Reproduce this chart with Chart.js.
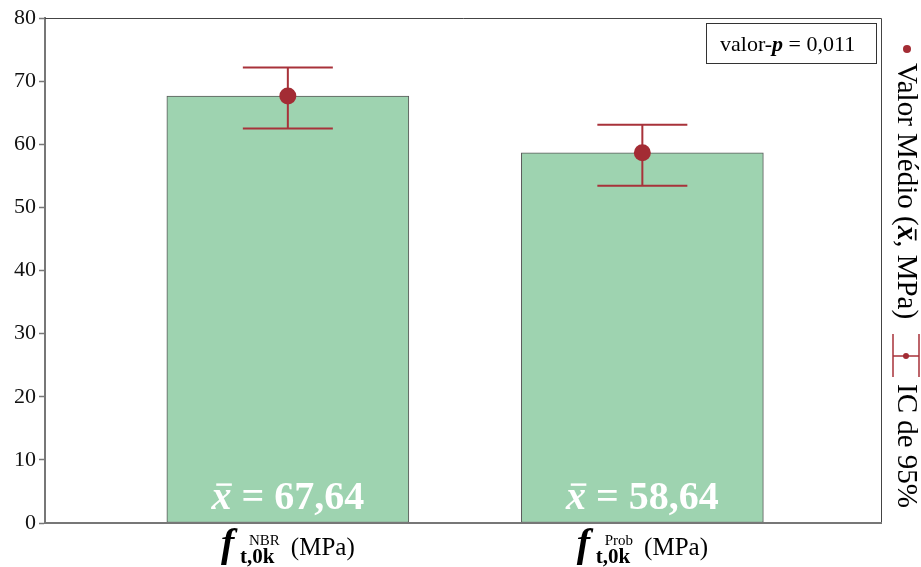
<!DOCTYPE html>
<html>
<head>
<meta charset="utf-8">
<script src="https://cdn.jsdelivr.net/npm/chart.js@4/dist/chart.umd.min.js"></script>
<style>
  html, body { margin: 0; padding: 0; background: #fff; }
  #wrap { width: 921px; height: 567px; }
</style>
</head>
<body>
<div id="wrap"><canvas id="c" width="921" height="567"></canvas></div>
<script>
// Strength estimates: mean value and 95% confidence interval per method
const categories = ['NBR', 'Prob'];
const meanValues = [67.64, 58.64];
const ciLower = [62.48, 53.43];
const ciUpper = [72.17, 63.10];
const yMin = 0;
const yMax = 80;
const yStep = 10;
const pValueText = '0,011';
const legendMeanText = ['Valor Médio (', 'x', ', MPa)'];
const legendCiText = 'IC de 95%';

const SERIF = '"Liberation Serif", "Times New Roman", serif';
const BAR_FILL = 'rgb(158,211,176)';
const BAR_EDGE = '#5a5a5a';
const RED = 'rgb(168,50,58)';
const DOT = 'rgb(163,44,52)';

const barPoints = categories.map((c, i) => ({ x: i + 1, y: meanValues[i] }));
const meanPoints = categories.map((c, i) => ({ x: i + 1, y: meanValues[i] }));

const fmt = v => v.toFixed(2).replace('.', ',');

// white page background
const bgPlugin = {
  id: 'bg',
  beforeDraw(chart) {
    const ctx = chart.ctx;
    ctx.save();
    ctx.fillStyle = '#fff';
    ctx.fillRect(0, 0, chart.width, chart.height);
    ctx.restore();
  }
};

// confidence interval whiskers, drawn over the bars and under the mean dots
const ciPlugin = {
  id: 'ci',
  afterDatasetDraw(chart, args) {
    if (args.index !== 0) return;
    const ctx = chart.ctx;
    const xs = chart.scales.x, ys = chart.scales.y;
    const half = 45;
    ctx.save();
    ctx.strokeStyle = RED;
    ctx.lineWidth = 2;
    categories.forEach((c, i) => {
      const px = xs.getPixelForValue(i + 1);
      const top = ys.getPixelForValue(ciUpper[i]);
      const bot = ys.getPixelForValue(ciLower[i]);
      ctx.beginPath();
      ctx.moveTo(px, top); ctx.lineTo(px, bot);
      ctx.moveTo(px - half, top); ctx.lineTo(px + half, top);
      ctx.moveTo(px - half, bot); ctx.lineTo(px + half, bot);
      ctx.stroke();
    });
    ctx.restore();
  }
};

function drawXbar(ctx, x, baseline, size, color) {
  // italic bold x with an overbar
  ctx.font = 'bold italic ' + size + 'px ' + SERIF;
  const w = ctx.measureText('x').width;
  ctx.fillStyle = color;
  ctx.fillText('x', x, baseline);
  ctx.fillRect(x + size * 0.12, baseline - size * 0.64, w * 0.78, Math.max(1.5, size * 0.06));
  return w;
}

const decorPlugin = {
  id: 'decor',
  afterDraw(chart) {
    const ctx = chart.ctx;
    const xs = chart.scales.x, ys = chart.scales.y;
    const area = chart.chartArea;
    ctx.save();

    // frame: thin dark top/right, grey bottom axis line
    ctx.strokeStyle = '#444';
    ctx.lineWidth = 1;
    ctx.beginPath();
    ctx.moveTo(area.left, area.top + 0.5);
    ctx.lineTo(area.right - 0.5, area.top + 0.5);
    ctx.lineTo(area.right - 0.5, area.bottom);
    ctx.stroke();
    ctx.strokeStyle = '#777';
    ctx.lineWidth = 2;
    ctx.beginPath();
    ctx.moveTo(area.left, area.bottom);
    ctx.lineTo(area.right, area.bottom);
    ctx.stroke();

    // value labels inside the bars
    ctx.textBaseline = 'alphabetic';
    ctx.textAlign = 'left';
    categories.forEach((c, i) => {
      const cx = xs.getPixelForValue(i + 1);
      const size = 40;
      const rest = ' = ' + fmt(meanValues[i]);
      ctx.font = 'bold italic ' + size + 'px ' + SERIF;
      const wx = ctx.measureText('x').width;
      ctx.font = 'bold ' + size + 'px ' + SERIF;
      const wr = ctx.measureText(rest).width;
      const x0 = cx - (wx + wr) / 2;
      const base = ys.getPixelForValue(0) - 14;
      drawXbar(ctx, x0, base, size, '#fff');
      ctx.font = 'bold ' + size + 'px ' + SERIF;
      ctx.fillText(rest, x0 + wx, base);
    });

    // category labels: f_{t,0k}^{method} (MPa)
    categories.forEach((c, i) => {
      const cx = xs.getPixelForValue(i + 1);
      const fFont = 'bold italic 40px ' + SERIF;
      const supFont = '15px ' + SERIF;
      const subFont = 'bold 21px ' + SERIF;
      const unitFont = '25px ' + SERIF;
      ctx.font = subFont; const subW = ctx.measureText('t,0k').width;
      ctx.font = supFont; const supW = ctx.measureText(c).width;
      ctx.font = unitFont; const unitW = ctx.measureText('(MPa)').width;
      const subX = 19, supX = 28;
      const unitX = Math.max(subX + subW, supX + supW) + 11;
      const total = unitX + unitW;
      const L = cx - total / 2;
      ctx.fillStyle = '#000';
      ctx.font = fFont; ctx.fillText('f', L, 556);
      ctx.font = subFont; ctx.fillText('t,0k', L + subX, 563);
      ctx.font = supFont; ctx.fillText(c, L + supX, 545);
      ctx.font = unitFont; ctx.fillText('(MPa)', L + unitX, 555);
    });

    // p-value box
    ctx.strokeStyle = '#333';
    ctx.lineWidth = 1;
    ctx.strokeRect(706.5, 23.5, 170, 40);
    ctx.fillStyle = '#000';
    ctx.font = '22px ' + SERIF;
    let tx = 720;
    ctx.fillText('valor-', tx, 51); tx += ctx.measureText('valor-').width;
    ctx.font = 'bold italic 22px ' + SERIF;
    ctx.fillText('p', tx, 51); tx += ctx.measureText('p').width;
    ctx.font = '22px ' + SERIF;
    ctx.fillText(' = ' + pValueText, tx, 51);

    // legend on the right, rotated to read top-to-bottom
    ctx.fillStyle = DOT;
    ctx.beginPath();
    ctx.arc(907, 49, 4, 0, Math.PI * 2);
    ctx.fill();

    ctx.save();
    ctx.translate(898, 63);
    ctx.rotate(Math.PI / 2);
    ctx.fillStyle = '#000';
    const lsize = 29;
    ctx.font = lsize + 'px ' + SERIF;
    let lx = 0;
    ctx.fillText(legendMeanText[0], lx, 0); lx += ctx.measureText(legendMeanText[0]).width;
    lx += drawXbar(ctx, lx, 0, lsize, '#000');
    ctx.font = lsize + 'px ' + SERIF;
    ctx.fillText(legendMeanText[2], lx, 0);
    ctx.restore();

    // interval marker
    ctx.strokeStyle = RED;
    ctx.lineWidth = 1.5;
    ctx.beginPath();
    ctx.moveTo(893, 334); ctx.lineTo(893, 377);
    ctx.moveTo(919, 334); ctx.lineTo(919, 377);
    ctx.moveTo(893, 356); ctx.lineTo(919, 356);
    ctx.stroke();
    ctx.fillStyle = DOT;
    ctx.beginPath();
    ctx.arc(906, 356, 3, 0, Math.PI * 2);
    ctx.fill();

    ctx.save();
    ctx.translate(898, 384);
    ctx.rotate(Math.PI / 2);
    ctx.fillStyle = '#000';
    ctx.font = lsize + 'px ' + SERIF;
    ctx.fillText(legendCiText, 0, 0);
    ctx.restore();

    ctx.restore();
  }
};

new Chart(document.getElementById('c'), {
  type: 'bar',
  data: {
    datasets: [
      {
        type: 'bar',
        data: barPoints,
        backgroundColor: BAR_FILL,
        borderColor: BAR_EDGE,
        borderWidth: 1,
        borderSkipped: false,
        barThickness: 242,
        order: 2
      },
      {
        type: 'line',
        data: meanPoints,
        showLine: false,
        pointRadius: 8.5,
        pointHoverRadius: 8.5,
        pointBackgroundColor: DOT,
        pointBorderColor: DOT,
        pointBorderWidth: 0,
        order: 1
      }
    ]
  },
  options: {
    responsive: false,
    animation: false,
    events: [],
    layout: { padding: { left: 0, top: 18, right: 39, bottom: 44 } },
    plugins: { legend: { display: false }, tooltip: { enabled: false } },
    scales: {
      x: {
        type: 'linear',
        min: 0.315,
        max: 2.676,
        offset: false,
        display: false
      },
      y: {
        min: yMin,
        max: yMax,
        afterFit(scale) { scale.width = 45; },
        ticks: {
          stepSize: yStep,
          color: '#111',
          padding: 3,
          font: { family: SERIF, size: 22 }
        },
        grid: {
          display: true,
          drawOnChartArea: false,
          drawTicks: true,
          tickLength: 6,
          tickColor: '#777',
          tickWidth: 1.5
        },
        border: { display: true, color: '#777', width: 2 }
      }
    }
  },
  plugins: [bgPlugin, ciPlugin, decorPlugin]
});
</script>
</body>
</html>
